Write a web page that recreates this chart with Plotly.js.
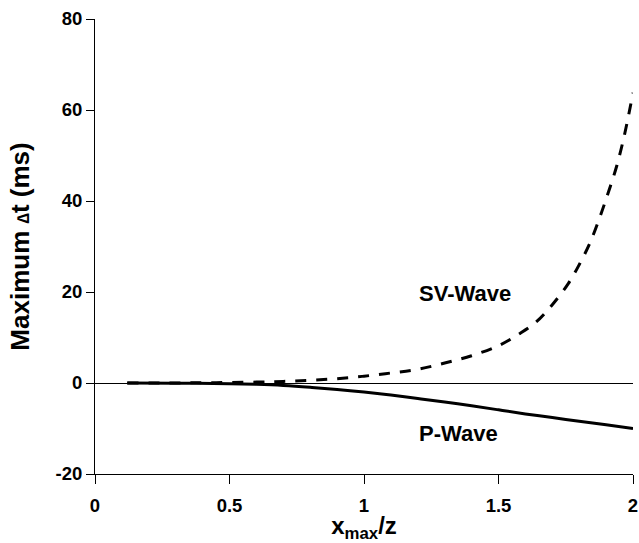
<!DOCTYPE html>
<html>
<head>
<meta charset="utf-8">
<script src="https://cdn.plot.ly/plotly-3.0.1.min.js"></script>
<style>html,body{margin:0;padding:0;background:#fff;}#chart{width:639px;height:543px;}</style>
</head>
<body>
<div id="chart"></div>
<script>
// Data
const svX = [0.12, 0.3, 0.45, 0.6, 0.7, 0.8, 0.9, 1.0, 1.1, 1.2, 1.3, 1.4, 1.5, 1.58, 1.64, 1.7, 1.76, 1.8, 1.84, 1.88, 1.91, 1.94, 1.97, 2.0];
const svY = [0, 0.02, 0.08, 0.2, 0.35, 0.6, 0.95, 1.5, 2.2, 3.0, 4.4, 6.0, 8.2, 10.9, 13.4, 17.2, 21.9, 26.0, 30.8, 37.0, 42.2, 47.8, 55.0, 63.8];
const pX = [0.12, 0.3, 0.5, 0.6, 0.7, 0.8, 0.9, 1.0, 1.1, 1.2, 1.3, 1.4, 1.5, 1.6, 1.7, 1.8, 1.9, 2.0];
const pY = [0, -0.05, -0.15, -0.3, -0.55, -0.95, -1.45, -2.0, -2.65, -3.4, -4.2, -5.0, -5.9, -6.8, -7.6, -8.4, -9.2, -10.0];
const xTicks = [0, 0.5, 1, 1.5, 2];
const xTickText = ['0', '0.5', '1', '1.5', '2'];
const yTicks = [-20, 0, 20, 40, 60, 80];
const yTickText = ['-20', '0', '20', '40', '60', '80'];
const labels = [
  {text: 'SV-Wave', x: 1.375, y: 19.6},
  {text: 'P-Wave', x: 1.35, y: -11.2}
];

const FONT = 'Liberation Sans, Arial, Helvetica, sans-serif';

const traces = [
  {x: svX, y: svY, mode: 'lines', type: 'scatter', name: 'SV-Wave',
   line: {color: '#000', width: 3, dash: '11px,10px', shape: 'spline'}},
  {x: pX, y: pY, mode: 'lines', type: 'scatter', name: 'P-Wave',
   line: {color: '#000', width: 3, shape: 'spline'}}
];

const layout = {
  width: 639, height: 543,
  margin: {l: 95, r: 6, t: 19, b: 69, pad: 0},
  paper_bgcolor: '#fff', plot_bgcolor: '#fff',
  showlegend: false,
  font: {family: FONT, color: '#000', size: 18, weight: 'bold'},
  xaxis: {
    range: [0, 2], tickvals: xTicks, ticktext: xTickText,
    showgrid: false, zeroline: false,
    showline: true, linecolor: '#000', linewidth: 1,
    ticks: 'outside', ticklen: 9, tickwidth: 1, tickcolor: '#000',
    ticklabelstandoff: 6,
    tickfont: {family: FONT, size: 18.5, weight: 'bold', color: '#000'},
    title: {text: 'x<sub>max</sub>/z', font: {family: FONT, size: 24, weight: 'bold', color: '#000'}, standoff: 6}
  },
  yaxis: {
    range: [-20, 80], tickvals: yTicks, ticktext: yTickText,
    showgrid: false,
    zeroline: true, zerolinecolor: '#000', zerolinewidth: 1,
    showline: true, linecolor: '#000', linewidth: 1,
    ticks: 'outside', ticklen: 8, tickwidth: 1, tickcolor: '#000',
    tickfont: {family: FONT, size: 18.5, weight: 'bold', color: '#000'},
    title: {text: 'Maximum <span style="font-size:17px">\u2206</span>t (ms)', font: {family: FONT, size: 26, weight: 'bold', color: '#000'}, standoff: 18}
  },
  annotations: labels.map(l => ({
    x: l.x, y: l.y, xref: 'x', yref: 'y', text: l.text, showarrow: false,
    font: {family: FONT, size: 22, weight: 'bold', color: '#000'}
  }))
};

Plotly.newPlot('chart', traces, layout, {displayModeBar: false, staticPlot: true});
</script>
</body>
</html>
